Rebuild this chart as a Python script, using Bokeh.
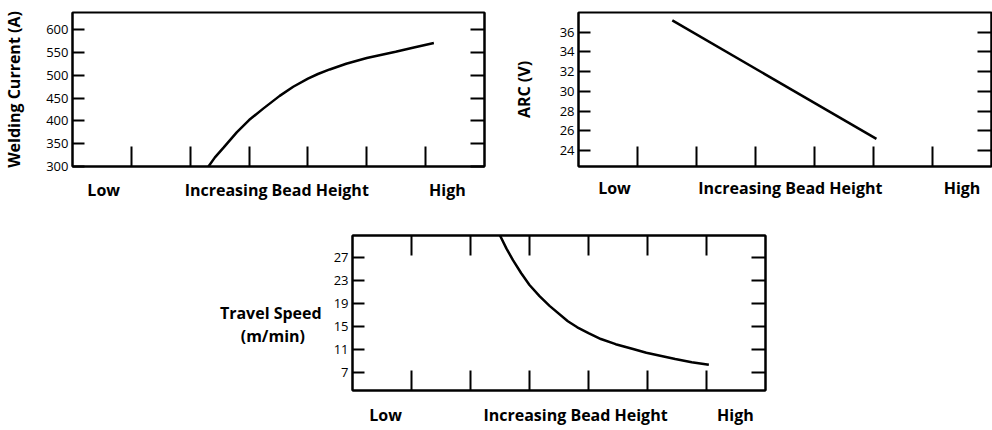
from bokeh.plotting import figure
from bokeh.models import LinearAxis, FixedTicker, Range1d, CustomJSTickFormatter, Spacer
from bokeh.layouts import row, column
from bokeh.embed import file_html
from bokeh.resources import INLINE

# ---------------- data ----------------
x_labels = ["Low", "Increasing Bead Height", "High"]
x_tick_marks = [1, 2, 3, 4, 5, 6]

current_ticks = [300, 350, 400, 450, 500, 550, 600]
current_x = [2.31, 2.42, 2.57, 2.79, 3.0, 3.24, 3.52, 3.75, 4.0, 4.17, 4.37, 4.65, 5.0, 5.49, 5.8, 6.14]
current_y = [300, 320, 342, 375, 402, 427, 455, 475, 493, 503, 513, 525.5, 538, 552, 561, 571]

arc_ticks = [24, 26, 28, 30, 32, 34, 36]
arc_x = [1.59, 5.05]
arc_y = [37.2, 25.2]

speed_ticks = [7, 11, 15, 19, 23, 27]
speed_x = [2.50, 2.61, 2.72, 2.86, 3.0, 3.17, 3.34, 3.65, 3.81, 4.0, 4.21, 4.46, 4.74, 4.98, 5.47, 5.75, 6.04]
speed_y = [30.9, 28.6, 26.6, 24.3, 22.25, 20.3, 18.6, 15.9, 14.85, 13.85, 12.8, 11.9, 11.1, 10.4, 9.3, 8.74, 8.3]

FONT = "Open Sans"
BLANK = CustomJSTickFormatter(code="return ''")
NBSP = "\u00a0"


def style_axis(ax):
    ax.axis_line_color = "black"
    ax.axis_line_width = 2
    ax.major_tick_line_color = "black"
    ax.major_tick_line_width = 2
    ax.major_tick_out = 0
    ax.minor_tick_out = 0
    ax.minor_tick_in = 0
    ax.major_label_text_font = FONT
    ax.major_label_text_font_size = "13px"
    ax.major_label_text_color = "black"
    ax.axis_label_text_font = FONT
    ax.axis_label_text_font_size = "16px"
    ax.axis_label_text_font_style = "bold"
    ax.axis_label_text_color = "black"


def make_panel(width, height, borders, y_range, yticks, xs, ys, ylabel,
               label_pos, label_standoff, ylabel_standoff,
               top_ticks=False, horizontal_ylabel=False):
    left, right, top, bottom = borders
    p = figure(width=width, height=height,
               x_range=Range1d(0, 7), y_range=Range1d(*y_range),
               x_axis_type=None, y_axis_type=None,
               output_backend="svg", toolbar_location=None,
               min_border_left=left, min_border_right=right,
               min_border_top=top, min_border_bottom=bottom)
    p.outline_line_color = "black"
    p.outline_line_width = 2
    p.outline_line_alpha = 1.0
    p.background_fill_color = "white"
    p.border_fill_color = "white"

    # bottom axis: inward tick marks + category words
    xb = LinearAxis(ticker=FixedTicker(ticks=label_pos, minor_ticks=x_tick_marks),
                    major_label_overrides={pos: lab for pos, lab in zip(label_pos, x_labels)})
    style_axis(xb)
    xb.major_tick_line_color = None
    xb.major_tick_in = 0
    xb.minor_tick_in = 20
    xb.minor_tick_line_color = "black"
    xb.minor_tick_line_width = 2
    xb.major_label_standoff = label_standoff
    xb.major_label_text_font_size = "16px"
    xb.major_label_text_font_style = "bold"
    p.add_layout(xb, "below")

    # left axis
    yl = LinearAxis(ticker=FixedTicker(ticks=yticks), axis_label=ylabel)
    style_axis(yl)
    yl.major_tick_in = 12
    yl.major_label_standoff = 4
    yl.axis_label_standoff = ylabel_standoff
    if horizontal_ylabel:
        yl.axis_label_orientation = "horizontal"
        yl.axis_label_text_line_height = 1.05
    p.add_layout(yl, "left")

    # right axis (ticks only)
    yr = LinearAxis(ticker=FixedTicker(ticks=yticks), formatter=BLANK)
    style_axis(yr)
    yr.major_tick_in = 14
    yr.major_label_standoff = 0
    p.add_layout(yr, "right")

    if top_ticks:
        xt = LinearAxis(ticker=FixedTicker(ticks=x_tick_marks), formatter=BLANK)
        style_axis(xt)
        xt.major_tick_in = 20
        xt.major_label_standoff = 0
        p.add_layout(xt, "above")

    p.line(xs, ys, line_width=2.5, color="black")
    return p


p1 = make_panel(492, 210, (72, 8, 12, 44), (300, 638), current_ticks,
                current_x, current_y, "Welding Current (A)",
                [0.53, 3.47, 6.37], 12, 18)
p2 = make_panel(500, 210, (86, 1, 12, 44), (22.4, 38.0), arc_ticks,
                arc_x, arc_y, "ARC (V)",
                [0.61, 3.59, 6.5], 10, 22)
p3 = make_panel(567, 218, (144, 10, 25, 37), (3.8, 30.9), speed_ticks,
                speed_x, speed_y, "\nTravel Speed\n(m/min)" + NBSP * 4,
                [0.56, 3.78, 6.49], 13, 9,
                top_ticks=True, horizontal_ylabel=True)

layout = column(row(p1, p2), row(Spacer(width=208, height=218), p3))

open("out.html", "w").write(file_html(layout, INLINE))
